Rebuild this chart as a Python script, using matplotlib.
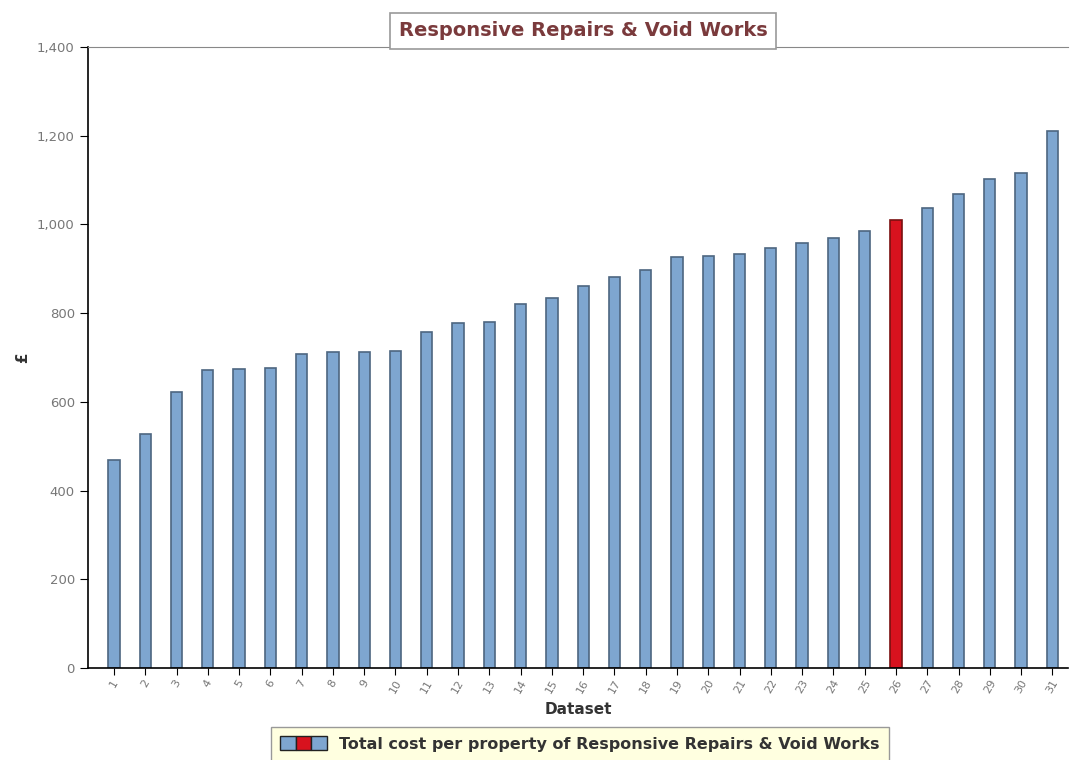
import numpy as np
import matplotlib.pyplot as plt
from matplotlib.patches import Patch
from matplotlib.legend_handler import HandlerTuple
from matplotlib.ticker import FuncFormatter

# values
datasets = list(range(1, 32))
costs = [469, 527, 622, 672, 674, 676, 708, 712, 712, 715,
         757, 778, 780, 820, 834, 861, 881, 897, 927, 929,
         933, 947, 958, 969, 985, 1010, 1037, 1068, 1102, 1116, 1211]
highlight = 26

title = "Responsive Repairs & Void Works"
legend_label = "Total cost per property of Responsive Repairs & Void Works"

blue = "#7ea6d0"
blue_edge = "#4d6680"
red = "#d8121e"
red_edge = "#7a1010"

fig = plt.figure(figsize=(10.7, 7.6), dpi=100)
ax = fig.add_axes([88/1070, 1-668/760, (1068-88)/1070, (668-47)/760])

colors = [red if d == highlight else blue for d in datasets]
edges = [red_edge if d == highlight else blue_edge for d in datasets]
ax.bar(datasets, costs, width=0.36, color=colors, edgecolor=edges, linewidth=1.2)

ax.set_xlim(0.17, 31.5)
ax.set_ylim(0, 1400)
ax.set_yticks(np.arange(0, 1401, 200))
ax.yaxis.set_major_formatter(FuncFormatter(lambda v, p: f"{int(v):,}"))
ax.set_xticks(datasets)
ax.set_xticklabels([str(d) for d in datasets], rotation=60, fontsize=8, color="#777777")
ax.tick_params(axis='y', labelsize=9.5, labelcolor="#777777", length=6, direction='out')
ax.tick_params(axis='x', length=5, direction='out', pad=2)

ax.spines['right'].set_visible(False)
ax.spines['top'].set_color("#888888")
ax.spines['left'].set_linewidth(1.2)
ax.spines['bottom'].set_linewidth(1.2)

ax.set_xlabel("Dataset", fontsize=11, fontweight='bold', color="#333333", labelpad=5)
ax.set_ylabel("£", fontsize=11, fontweight='bold', color="#333333")
ax.yaxis.set_label_coords(-58/980, 0.5)

# title in a framed box sitting on the top spine
fig.text(583/1070, 1-31/760, title, ha='center', va='center', fontsize=14,
         fontweight='bold', color="#7a3a3c",
         bbox=dict(boxstyle='square,pad=0.45', facecolor='white', edgecolor='#999999', linewidth=1.2))

# legend with split blue/red/blue swatch
bp = Patch(facecolor=blue, edgecolor='#222222')
rp = Patch(facecolor=red, edgecolor='#222222')
leg = fig.legend(handles=[(bp, rp, bp)], labels=[legend_label],
                 handler_map={tuple: HandlerTuple(ndivide=None, pad=0)},
                 loc='center', bbox_to_anchor=(580/1070, 1-744/760),
                 prop={'size': 11.5, 'weight': 'bold'}, fancybox=False,
                 handlelength=2.9, handleheight=1.0, borderpad=0.6,
                 facecolor='#ffffe0', edgecolor='#999999', framealpha=1)
for t in leg.get_texts():
    t.set_color("#333333")

fig.savefig("out.png", dpi=100)
